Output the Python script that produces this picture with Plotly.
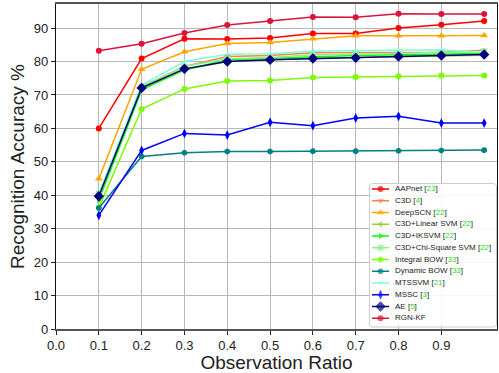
import plotly.graph_objects as go

ratios = [0.1, 0.2, 0.3, 0.4, 0.5, 0.6, 0.7, 0.8, 0.9, 1.0]

names = ["AAPnet", "C3D", "DeepSCN", "C3D+Linear SVM", "C3D+IKSVM",
         "C3D+Chi-Square SVM", "Integral BOW", "Dynamic BOW", "MTSSVM",
         "MSSC", "AE", "RGN-KF"]
refs = ["23", "4", "22", "22", "22", "22", "33", "33", "21", "3", "5", None]

aapnet = [60.0, 80.9, 86.8, 86.7, 87.0, 88.4, 88.4, 90.0, 91.0, 92.1]
c3d = [40.0, 72.5, 78.5, 81.5, 81.8, 82.6, 82.7, 82.8, 82.8, 83.4]
deepscn = [44.9, 77.7, 82.9, 85.4, 85.7, 86.8, 87.7, 87.7, 87.7, 87.8]
c3d_linear = [39.8, 72.0, 77.5, 80.0, 80.5, 81.0, 81.2, 81.5, 81.7, 81.9]
c3d_iksvm = [38.5, 71.5, 77.5, 80.5, 81.0, 81.5, 81.8, 82.0, 82.3, 82.4]
c3d_chisq = [40.5, 72.5, 78.5, 80.8, 81.2, 82.0, 82.2, 82.5, 82.6, 83.0]
integral_bow = [36.3, 65.8, 71.8, 74.2, 74.3, 75.2, 75.4, 75.6, 75.8, 75.8]
dynamic_bow = [36.2, 51.6, 52.7, 53.1, 53.1, 53.2, 53.2, 53.3, 53.4, 53.5]
mtssvm = [40.1, 73.0, 80.0, 82.2, 82.3, 83.1, 83.3, 83.4, 83.5, 82.8]
mssc = [34.0, 53.4, 58.5, 58.0, 61.8, 60.8, 63.1, 63.6, 61.6, 61.6]
ae = [39.7, 72.1, 77.8, 80.0, 80.5, 80.9, 81.1, 81.5, 81.8, 82.1]
rgn_kf = [83.2, 85.3, 88.5, 90.9, 92.1, 93.3, 93.2, 94.3, 94.2, 94.2]

series = [aapnet, c3d, deepscn, c3d_linear, c3d_iksvm, c3d_chisq,
          integral_bow, dynamic_bow, mtssvm, mssc, ae, rgn_kf]

colors = ["#ff0000", "#ff7f50", "#ffa500", "#9acd32", "#00ff00", "#90ee90",
          "#7cfc00", "#008080", "#7fffd4", "#0000ff", "#000080", "#dc143c"]
symbols = ["circle", "triangle-down", "triangle-up", "triangle-left",
           "triangle-right", "square", "circle", "octagon", "triangle-left",
           "diamond-tall", "diamond", "circle"]
msizes = [6, 6, 7, 6, 6, 6, 6, 6, 4, 7, 8, 6]

xticks = [0.0, 0.1, 0.2, 0.3, 0.4, 0.5, 0.6, 0.7, 0.8, 0.9]
yticks = [0, 10, 20, 30, 40, 50, 60, 70, 80, 90]

fig = go.Figure()
for nm, ys, c, s, ms in zip(names, series, colors, symbols, msizes):
    fig.add_trace(go.Scatter(
        x=ratios, y=ys, mode="lines+markers", name=nm, showlegend=False,
        line=dict(color=c, width=1.5),
        marker=dict(color=c, symbol=s, size=ms, line=dict(width=0)),
        xaxis="x", yaxis="y"))

# custom compact legend in an inset axis (pixel-like units)
LW, LH = 128, 146
row0, rowgap = 6.0, 11.75
for i, (nm, r, c, s, ms) in enumerate(zip(names, refs, colors, symbols, msizes)):
    yy = row0 + i * rowgap
    fig.add_trace(go.Scatter(
        x=[3, 11.5, 20], y=[yy, yy, yy], mode="lines+markers", showlegend=False,
        line=dict(color=c, width=1.5),
        marker=dict(color=c, symbol=s, size=[0, ms, 0], line=dict(width=0)),
        xaxis="x2", yaxis="y2", hoverinfo="skip"))
labels = []
for nm, r in zip(names, refs):
    if r is None:
        labels.append(nm)
    else:
        labels.append(nm + ' [<span style="color:#22e022">' + r + '</span>]')
fig.add_trace(go.Scatter(
    x=[26] * len(names), y=[row0 + i * rowgap for i in range(len(names))],
    mode="text", text=labels, textposition="middle right",
    textfont=dict(family="Liberation Sans, Arial, sans-serif", size=8, color="#222"),
    showlegend=False, xaxis="x2", yaxis="y2", hoverinfo="skip"))

r_ = 3
x0b, x1b, y0b, y1b = 0.5, LW - 0.5, 0.5, 144
path = (f"M {x0b+r_},{y0b} L {x1b-r_},{y0b} Q {x1b},{y0b} {x1b},{y0b+r_} "
        f"L {x1b},{y1b-r_} Q {x1b},{y1b} {x1b-r_},{y1b} L {x0b+r_},{y1b} "
        f"Q {x0b},{y1b} {x0b},{y1b-r_} L {x0b},{y0b+r_} Q {x0b},{y0b} {x0b+r_},{y0b} Z")
fig.add_shape(type="path", path=path, xref="x2", yref="y2", layer="below",
              fillcolor="rgba(255,255,255,0.85)", line=dict(color="#cccccc", width=1))

font = "Liberation Sans, Arial, Helvetica, sans-serif"
fig.update_layout(
    width=499, height=373,
    margin=dict(l=56, r=2, t=4, b=44),
    paper_bgcolor="white", plot_bgcolor="rgba(0,0,0,0)",
    font=dict(family=font, color="#222"),
    xaxis=dict(range=[0, 1.03], tickvals=xticks, ticktext=[f"{v:.1f}" for v in xticks],
               showgrid=True, gridcolor="#b8b8b8", gridwidth=1, zeroline=False,
               showline=True, mirror=True, linecolor="#555", linewidth=1.5,
               ticks="outside", ticklen=4, tickcolor="#222",
               tickfont=dict(size=13, family=font, color="#222"),
               title=dict(text="Observation Ratio", font=dict(size=19, family=font, color="#222"),
                          standoff=2)),
    yaxis=dict(range=[0, 97.2], tickvals=yticks,
               showgrid=True, gridcolor="#b8b8b8", gridwidth=1, zeroline=False,
               showline=True, mirror=True, linecolor="#111", linewidth=1.2,
               ticks="outside", ticklen=4, tickcolor="#222",
               tickfont=dict(size=13, family=font, color="#222"),
               title=dict(text="Recognition Accuracy %", font=dict(size=19, family=font, color="#222"),
                          standoff=4)),
    xaxis2=dict(domain=[(369 - 56) / 441, 1.0], range=[0, LW], visible=False,
                anchor="y2", fixedrange=True),
    yaxis2=dict(domain=[0.0, (329 - 183) / 325], range=[LH, 0], visible=False,
                anchor="x2", fixedrange=True),
)

fig.write_html("out.html")
